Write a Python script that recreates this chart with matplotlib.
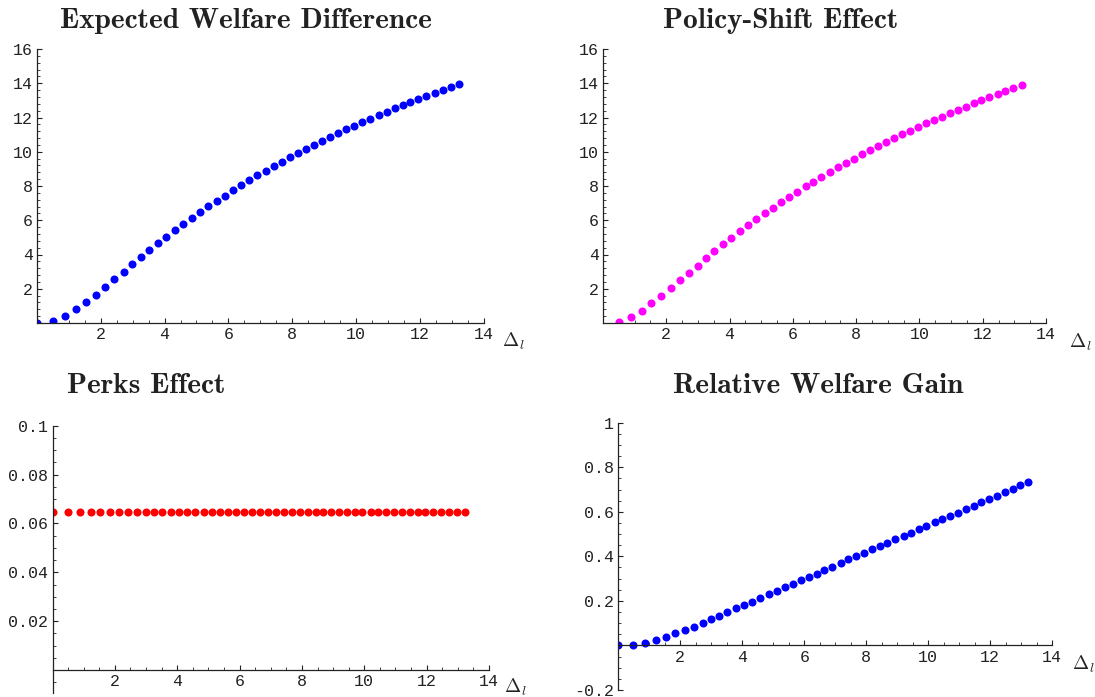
import matplotlib
matplotlib.use("Agg")
import matplotlib.pyplot as plt
from matplotlib.ticker import FixedLocator, MultipleLocator, FixedFormatter

# ---------------- data ----------------
delta_l = [0.00, 0.49, 0.87, 1.22, 1.53, 1.84, 2.14, 2.43, 2.72, 2.99,
           3.26, 3.52, 3.80, 4.06, 4.32, 4.58, 4.85, 5.11, 5.37, 5.63,
           5.88, 6.14, 6.40, 6.64, 6.90, 7.17, 7.42, 7.67, 7.93, 8.19,
           8.44, 8.68, 8.94, 9.20, 9.45, 9.70, 9.94, 10.20, 10.45, 10.71,
           10.96, 11.21, 11.47, 11.71, 11.96, 12.21, 12.47, 12.72, 12.97, 13.23]

expected_welfare = [0.00, 0.12, 0.41, 0.80, 1.23, 1.66, 2.10, 2.55, 3.00, 3.43,
                    3.85, 4.26, 4.65, 5.04, 5.41, 5.78, 6.13, 6.48, 6.81, 7.12,
                    7.43, 7.75, 8.04, 8.33, 8.62, 8.89, 9.17, 9.42, 9.67, 9.93,
                    10.16, 10.39, 10.63, 10.86, 11.09, 11.31, 11.52, 11.74, 11.93, 12.13,
                    12.34, 12.54, 12.71, 12.91, 13.08, 13.26, 13.43, 13.61, 13.78, 13.94]

# policy-shift effect (first point at delta_l = 0 lies below the plot range)
policy_x = delta_l[1:]
policy_shift = [0.04, 0.35, 0.72, 1.15, 1.58, 2.04, 2.49, 2.92, 3.35,
                3.78, 4.19, 4.60, 4.96, 5.35, 5.71, 6.06, 6.41, 6.74, 7.05,
                7.38, 7.67, 7.98, 8.25, 8.54, 8.82, 9.09, 9.34, 9.60, 9.85,
                10.08, 10.32, 10.55, 10.79, 11.02, 11.23, 11.45, 11.66, 11.86, 12.05,
                12.26, 12.46, 12.63, 12.83, 13.01, 13.18, 13.36, 13.53, 13.71, 13.88]

perks = [0.0645, 0.0645, 0.0645, 0.0645, 0.0645, 0.0645, 0.0645, 0.0645, 0.0645, 0.0645,
         0.0645, 0.0645, 0.0645, 0.0645, 0.0645, 0.0645, 0.0645, 0.0645, 0.0645, 0.0645,
         0.0645, 0.0645, 0.0645, 0.0645, 0.0645, 0.0645, 0.0645, 0.0645, 0.0645, 0.0645,
         0.0645, 0.0645, 0.0645, 0.0645, 0.0645, 0.0645, 0.0645, 0.0645, 0.0645, 0.0645,
         0.0645, 0.0645, 0.0645, 0.0645, 0.0645, 0.0645, 0.0645, 0.0645, 0.0645, 0.0645]

relative_gain = [0.000, 0.003, 0.012, 0.026, 0.039, 0.054, 0.069, 0.085, 0.100, 0.117,
                 0.133, 0.150, 0.166, 0.181, 0.197, 0.214, 0.230, 0.245, 0.261, 0.277,
                 0.293, 0.308, 0.323, 0.339, 0.354, 0.369, 0.386, 0.401, 0.417, 0.432,
                 0.447, 0.462, 0.477, 0.492, 0.507, 0.522, 0.537, 0.552, 0.567, 0.582,
                 0.596, 0.613, 0.628, 0.643, 0.658, 0.673, 0.688, 0.704, 0.719, 0.734]

titles = ["Expected Welfare Difference", "Policy-Shift Effect",
          "Perks Effect", "Relative Welfare Gain"]

x_ticks = [2, 4, 6, 8, 10, 12, 14]
x_ticklabels = ["2", "4", "6", "8", "10", "12", "14"]
top_y_ticks = [2, 4, 6, 8, 10, 12, 14, 16]
top_y_ticklabels = ["2", "4", "6", "8", "10", "12", "14", "16"]
perks_y_ticks = [0.02, 0.04, 0.06, 0.08, 0.1]
perks_y_ticklabels = ["0.02", "0.04", "0.06", "0.08", "0.1"]
gain_y_ticks = [-0.2, 0.2, 0.4, 0.6, 0.8, 1.0]
gain_y_ticklabels = ["-0.2", "0.2", "0.4", "0.6", "0.8", "1"]

# ---------------- figure ----------------
W, H = 1095, 697
plt.rcParams["mathtext.fontset"] = "cm"
fig = plt.figure(figsize=(W / 100, H / 100), dpi=100)


def rect(x0, x1, ybot, ytop):
    return [x0 / W, 1 - ybot / H, (x1 - x0) / W, (ybot - ytop) / H]


TICKFONT = "Liberation Mono"


def style(ax, xlim, ylim, yticks, yticklabels, yminor):
    ax.set_xlim(*xlim)
    ax.set_ylim(*ylim)
    for s in ("top", "right"):
        ax.spines[s].set_visible(False)
    ax.spines["bottom"].set_position(("data", 0))
    ax.spines["left"].set_position(("data", 0))
    for s in ("bottom", "left"):
        ax.spines[s].set_linewidth(0.9)
        ax.spines[s].set_color("#222222")
    ax.xaxis.set_major_locator(FixedLocator(x_ticks))
    ax.xaxis.set_major_formatter(FixedFormatter(x_ticklabels))
    ax.xaxis.set_minor_locator(MultipleLocator(0.5))
    ax.yaxis.set_major_locator(FixedLocator(yticks))
    ax.yaxis.set_major_formatter(FixedFormatter(yticklabels))
    ax.yaxis.set_minor_locator(MultipleLocator(yminor))
    ax.tick_params(which="major", direction="in", length=3.5, width=0.8,
                   color="#222222", labelsize=12, labelcolor="#222222", pad=3)
    ax.tick_params(which="minor", direction="in", length=2.0, width=0.6,
                   color="#222222")
    for lab in ax.get_xticklabels() + ax.get_yticklabels():
        lab.set_fontfamily(TICKFONT)
    ax.patch.set_alpha(0)


MS = 5.8

# top-left
ax1 = fig.add_axes(rect(37, 483.5, 323, 49))
ax1.plot(delta_l, expected_welfare, "o", color="#0000ff", ms=MS, mec="none")
style(ax1, (0, 14), (0, 16), top_y_ticks, top_y_ticklabels, 0.4)

# top-right
ax2 = fig.add_axes(rect(603, 1046, 323, 49))
ax2.plot(policy_x, policy_shift, "o", color="#ff00ff", ms=MS, mec="none")
style(ax2, (0, 14), (0, 16), top_y_ticks, top_y_ticklabels, 0.4)

# bottom-left
ax3 = fig.add_axes(rect(52.5, 489, 693, 425.7))
ax3.plot(delta_l, perks, "o", color="#ff0000", ms=MS, mec="none")
style(ax3, (0, 14), (-0.0094, 0.1), perks_y_ticks, perks_y_ticklabels, 0.005)

# bottom-right
ax4 = fig.add_axes(rect(618.3, 1052.3, 690, 422.7))
ax4.plot(delta_l, relative_gain, "o", color="#0000ff", ms=MS, mec="none")
style(ax4, (0, 14), (-0.2, 1.0), gain_y_ticks, gain_y_ticklabels, 0.05)

# x-axis labels
for ax, off in ((ax1, (18, -18)), (ax2, (23, -19)), (ax3, (15, -17)), (ax4, (20, -19))):
    ax.annotate(r"$\Delta_l$", xy=(14, 0), xycoords="data", xytext=off,
                textcoords="offset pixels", ha="left", va="center",
                fontsize=14, color="#222222", annotation_clip=False)

# titles (sized so the first one has about its reference width)
renderer = fig.canvas.get_renderer()
probe = fig.text(0, 0, titles[0], fontfamily="cmb10", fontsize=20)
w = probe.get_window_extent(renderer).width
probe.remove()
tsize = 20 * 379 / w * 0.98

title_pos = [(246, 21), (781, 21), (146, 386), (818, 386)]
for t, (cx, cy) in zip(titles, title_pos):
    fig.text(cx / W, 1 - cy / H, t, fontfamily="cmb10", fontsize=tsize,
             ha="center", va="center", color="#222222")

fig.savefig("out.png", dpi=100)
